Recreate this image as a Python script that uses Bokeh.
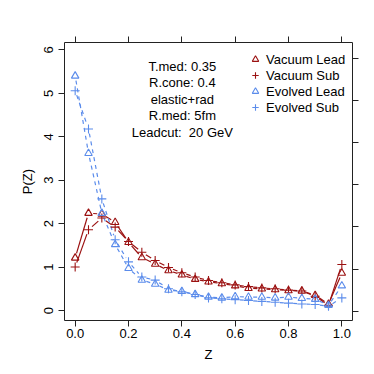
import math
from bokeh.plotting import figure
from bokeh.models import (Range1d, LinearAxis, FixedTicker, Legend, LegendItem, Label,
                          NumeralTickFormatter)
from bokeh.embed import file_html
from bokeh.resources import INLINE

# ---- data ----
z = [0.00, 0.05, 0.10, 0.15, 0.20, 0.25, 0.30, 0.35, 0.40, 0.45, 0.50,
     0.55, 0.60, 0.65, 0.70, 0.75, 0.80, 0.85, 0.90, 0.95, 1.00]
vac_lead = [1.21, 2.24, 2.22, 2.03, 1.57, 1.22, 1.07, 0.92, 0.82, 0.72, 0.66,
            0.62, 0.57, 0.51, 0.50, 0.48, 0.46, 0.45, 0.35, 0.15, 0.86]
vac_sub = [1.00, 1.86, 2.13, 1.92, 1.59, 1.34, 1.15, 0.99, 0.87, 0.77, 0.69,
           0.64, 0.59, 0.55, 0.52, 0.50, 0.47, 0.45, 0.33, 0.12, 1.06]
evo_lead = [5.40, 3.62, 2.24, 1.52, 0.97, 0.70, 0.61, 0.47, 0.44, 0.37, 0.31,
            0.29, 0.32, 0.31, 0.31, 0.29, 0.31, 0.28, 0.26, 0.12, 0.57]
evo_sub = [5.06, 4.18, 2.57, 1.63, 1.12, 0.77, 0.70, 0.50, 0.43, 0.37, 0.29,
           0.27, 0.25, 0.23, 0.21, 0.19, 0.17, 0.15, 0.14, 0.10, 0.29]

x_ticks = [0.0, 0.2, 0.4, 0.6, 0.8, 1.0]
y_ticks = [0, 1, 2, 3, 4, 5, 6]
legend_labels = ["Vacuum Lead", "Vacuum Sub", "Evolved Lead", "Evolved Sub"]
info_lines = ["T.med: 0.35", "R.cone: 0.4", "elastic+rad", "R.med: 5fm", "Leadcut: \u00a020 GeV"]

RED = "#9B1111"
BLUE = "#5B8CEB"
FONT = "Liberation Sans"
FS = "13px"

X0, X1 = -0.04, 1.04
Y0, Y1 = -0.23, 6.17
FW, FH = 288, 278

p = figure(frame_width=FW, frame_height=FH, output_backend="svg", toolbar_location=None,
           x_range=Range1d(X0, X1), y_range=Range1d(Y0, Y1),
           min_border_left=64, min_border_right=18, min_border_top=42, min_border_bottom=50,
           x_axis_label="Z", y_axis_label="P(Z)")
p.xgrid.visible = False
p.ygrid.visible = False
p.outline_line_color = "#222222"
p.outline_line_width = 1
p.background_fill_color = "white"
p.border_fill_color = "white"

xb = p.below[0]
yl = p.left[0]

p.extra_y_ranges = {"right": Range1d(-0.22, 6.37)}
ax_r = LinearAxis(y_range_name="right", ticker=FixedTicker(ticks=y_ticks))
p.add_layout(ax_r, "right")
ax_t = LinearAxis(ticker=FixedTicker(ticks=x_ticks))
p.add_layout(ax_t, "above")

xb.ticker = FixedTicker(ticks=x_ticks)
xb.formatter = NumeralTickFormatter(format="0.0")
yl.ticker = FixedTicker(ticks=y_ticks)

for ax in [xb, yl, ax_r, ax_t]:
    ax.axis_line_color = None
    ax.major_tick_out = 6
    ax.major_tick_in = 0
    ax.minor_tick_line_color = None
    ax.major_tick_line_color = "#222222"
    ax.major_label_text_font = FONT
    ax.major_label_text_font_size = FS
    ax.major_label_text_color = "black"
    ax.axis_label_text_font = FONT
    ax.axis_label_text_font_size = FS
    ax.axis_label_text_font_style = "normal"
    ax.axis_label_text_color = "black"

# unlabeled tick marks on the right and top sides
ax_r.major_label_overrides = {t: "" for t in y_ticks}
ax_t.major_label_overrides = {t: "" for t in x_ticks}
ax_r.major_label_standoff = 0
ax_t.major_label_standoff = 0

yl.major_label_orientation = "vertical"
yl.major_label_standoff = 5
yl.axis_label_standoff = 7
xb.major_label_standoff = 2
xb.axis_label_standoff = 6

# R type="b" style lines: segments with gaps around each point
GAP = 4.7
sx = FW / (X1 - X0)
sy = FH / (Y1 - Y0)


def gapped(xs, ys):
    x0s, y0s, x1s, y1s = [], [], [], []
    for i in range(len(xs) - 1):
        dx = xs[i + 1] - xs[i]
        dy = ys[i + 1] - ys[i]
        d = math.hypot(dx * sx, dy * sy)
        f = GAP / d
        if f < 0.5:
            x0s.append(xs[i] + f * dx)
            y0s.append(ys[i] + f * dy)
            x1s.append(xs[i + 1] - f * dx)
            y1s.append(ys[i + 1] - f * dy)
    return x0s, y0s, x1s, y1s


series = [
    (vac_lead, RED, "triangle", None),
    (vac_sub, RED, "cross", None),
    (evo_lead, BLUE, "triangle", "4 4"),
    (evo_sub, BLUE, "cross", "4 4"),
]

marker_renderers = []
for ys, col, mk, dash in series:
    a, b, c, d = gapped(z, ys)
    kw = dict(line_color=col, line_width=1.2)
    if dash:
        kw["line_dash"] = dash
    p.segment(a, b, c, d, **kw)
for ys, col, mk, dash in series:
    size = 7.5 if mk == "triangle" else 9
    r = p.scatter(z, ys, marker=mk, size=size, line_color=col, fill_color=None, line_width=1.1)
    marker_renderers.append(r)

legend = Legend(items=[LegendItem(label=lab, renderers=[r]) for lab, r in zip(legend_labels, marker_renderers)],
                location=(181, 205), orientation="vertical")
legend.border_line_alpha = 0
legend.background_fill_alpha = 0
legend.padding = 0
legend.margin = 0
legend.spacing = 0
legend.glyph_width = 20
legend.glyph_height = 16
legend.label_height = 16
legend.label_standoff = 1
legend.label_text_font = FONT
legend.label_text_font_size = FS
legend.label_text_color = "black"
p.add_layout(legend, "center")

info_x = 0.402
info_y0 = 5.62
info_step = 0.38
for i, t in enumerate(info_lines):
    p.add_layout(Label(x=info_x, y=info_y0 - i * info_step, text=t, text_align="center",
                       text_baseline="middle", text_font=FONT, text_font_size=FS,
                       text_color="black"))

open("out.html", "w").write(file_html(p, INLINE))
